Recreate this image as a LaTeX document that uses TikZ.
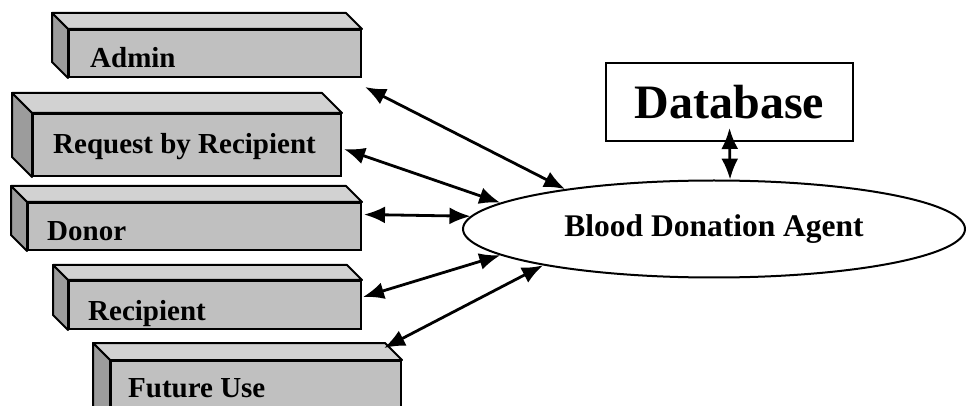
\documentclass[tikz,border=0pt]{standalone}
\usepackage{fontspec}
\setmainfont{Liberation Serif}
\usetikzlibrary{shapes.geometric,arrows.meta}

\definecolor{slabfront}{HTML}{C0C0C0}
\definecolor{slabtop}{HTML}{D2D2D2}
\definecolor{slabside}{HTML}{9C9C9C}

\tikzset{
  slab/.style={draw, line width=2pt, fill=slabfront, anchor=north west, inner sep=0pt},
  slabtext/.style={anchor=base west, inner sep=0pt, font=\fontsize{29}{34}\selectfont\bfseries},
  link/.style={line width=2.8pt, {Latex[length=21pt,width=17pt]}-{Latex[length=21pt,width=17pt]}},
}

% top and left faces of a slab
\newcommand{\slabfaces}[2]{%
  \filldraw[line width=2pt, line join=round, fill=slabtop] (#1.north west) -- ++(-#2,-#2)
    -- ([shift={(-#2,-#2)}]#1.north east) -- (#1.north east) -- cycle;
  \filldraw[line width=2pt, line join=round, fill=slabside] (#1.north west) -- ++(-#2,-#2)
    -- ([shift={(-#2,-#2)}]#1.south west) -- (#1.south west) -- cycle;
}

\begin{document}
\begin{tikzpicture}[x=1pt, y=-1pt]
\useasboundingbox (0,0) rectangle (967,406);
\clip (0,0) rectangle (967,406);

% slabs on the left
\node[slab, minimum width=292pt, minimum height=47pt] (admin) at (68,29) {};
\slabfaces{admin}{16}
\node[slab, minimum width=308pt, minimum height=62pt] (request) at (32,113) {};
\slabfaces{request}{20}
\node[slab, minimum width=333pt, minimum height=47pt] (donor) at (27,202) {};
\slabfaces{donor}{16}
\node[slab, minimum width=292pt, minimum height=48pt] (recipient) at (68,280) {};
\slabfaces{recipient}{15}
\node[slab, minimum width=290pt, minimum height=70pt] (future) at (110,360) {};
\slabfaces{future}{17}

\node[slabtext] (admintxt) at ([shift={(22,-10)}]admin.south west) {Admin};
\node[slabtext] (requesttxt) at ([shift={(21,-23)}]request.south west) {Request by Recipient};
\node[slabtext] (donortxt) at ([shift={(20,-10)}]donor.south west) {Donor};
\node[slabtext] (recipienttxt) at ([shift={(20,-10)}]recipient.south west) {Recipient};
\node[slabtext] (futuretxt) at ([shift={(18,37)}]future.north west) {Future Use};

% agent and database
\node[draw, ellipse, line width=2pt, inner sep=0pt, minimum width=502pt, minimum height=97pt,
  font=\fontsize{31.5}{36}\selectfont\bfseries] (agent) at (714,229) {Blood Donation Agent};
\node[draw, rectangle, line width=2pt, inner sep=0pt, minimum width=247pt, minimum height=78pt,
  font=\fontsize{48}{54}\selectfont\bfseries] (db) at (729.5,102) {Database\hspace{16pt}};

\path[draw,link] ([shift={(3,9)}]admin.south east) -- (agent.165.5);
\path[draw,link] ([shift={(2,4)}]request.east) -- (agent.173);
\path[draw,link] ([shift={(2,-12)}]donor.east) -- (agent.177.5);
\path[draw,link] ([shift={(1,-8)}]recipient.east) -- (agent.187.3);
\path[draw,link] ([shift={(-18,-12)}]future.north east) -- (agent.192.7);
\path[draw,link] ([shift={(0,-14)}]db.south) -- (agent.72);
\end{tikzpicture}
\end{document}
